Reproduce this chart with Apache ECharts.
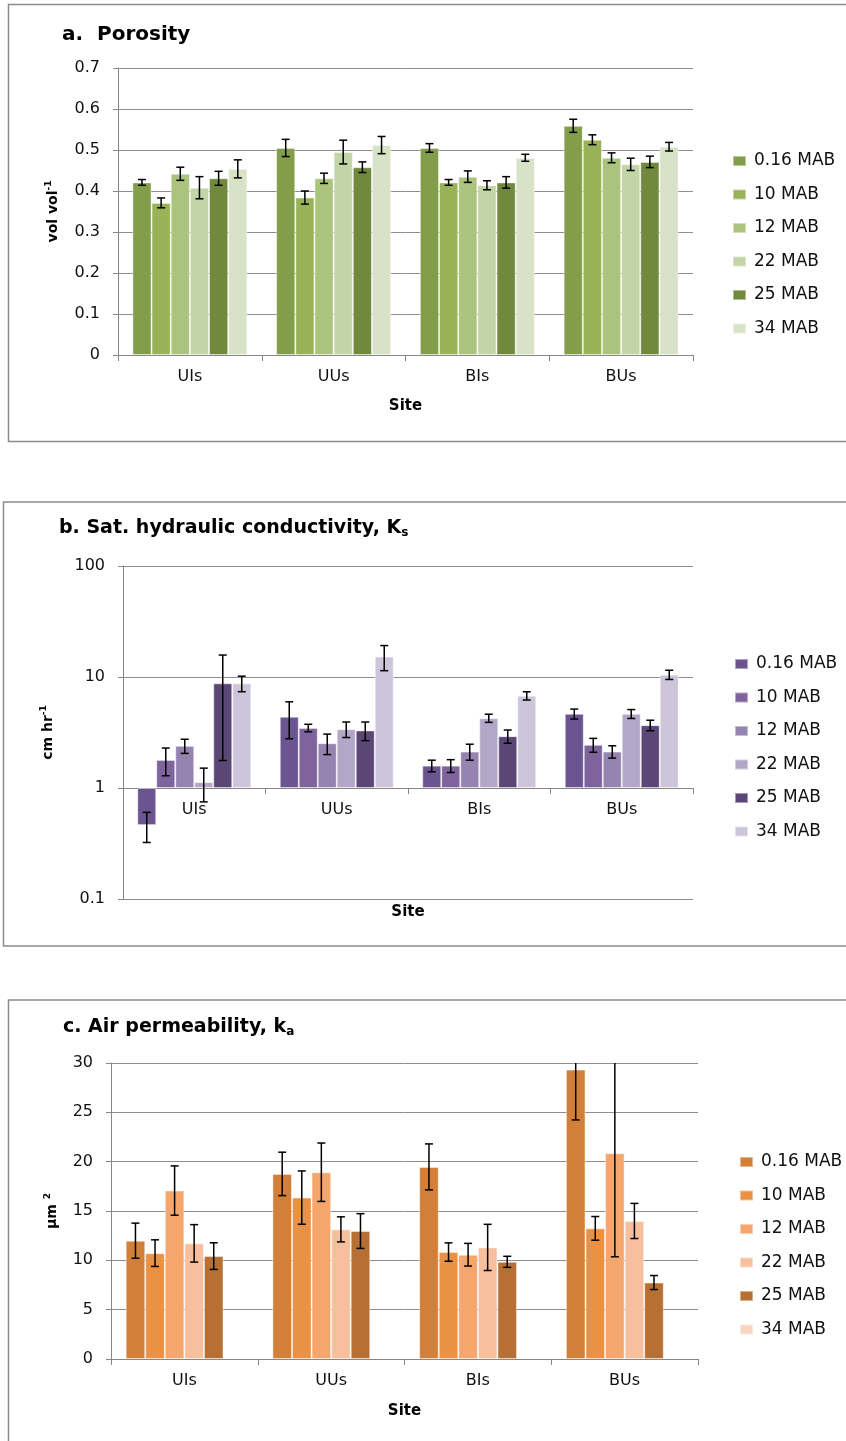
<!DOCTYPE html>
<html><head><meta charset="utf-8">
<script src="https://cdn.jsdelivr.net/npm/echarts@6/dist/echarts.min.js"></script>
<style>html,body{margin:0;padding:0;background:#fff}#c{width:846px;height:1441px}</style>
</head><body><div id="c"></div>
<script>
// ---------- DATA ----------
const sites = ['UIs', 'UUs', 'BIs', 'BUs'];
const depths = ['0.16 MAB', '10 MAB', '12 MAB', '22 MAB', '25 MAB', '34 MAB'];

// a. Porosity (vol vol-1), rows = depths, cols = sites
const porosityMean = [
  [0.421, 0.505, 0.505, 0.559],
  [0.371, 0.384, 0.421, 0.525],
  [0.442, 0.431, 0.435, 0.481],
  [0.408, 0.495, 0.414, 0.465],
  [0.431, 0.458, 0.421, 0.471],
  [0.454, 0.512, 0.481, 0.508]
];
const porosityErr = [
  [0.007, 0.021, 0.0105, 0.016],
  [0.012, 0.016, 0.007, 0.012],
  [0.016, 0.0125, 0.014, 0.012],
  [0.027, 0.029, 0.011, 0.015],
  [0.017, 0.013, 0.014, 0.014],
  [0.022, 0.021, 0.0085, 0.0105]
];
const porosityTicks = [0, 0.7, 0.1]; // min, max, interval

// b. Saturated hydraulic conductivity Ks (cm hr-1)
const ksMean = [
  [0.463, 4.38, 1.59, 4.66],
  [1.79, 3.48, 1.59, 2.45],
  [2.40, 2.53, 2.13, 2.13],
  [1.13, 3.39, 4.26, 4.66],
  [8.77, 3.30, 2.93, 3.68],
  [8.77, 15.3, 6.78, 10.5]
];
const ksErr = [
  [0.14, 1.6, 0.19, 0.48],
  [0.5, 0.27, 0.21, 0.35],
  [0.35, 0.53, 0.35, 0.27],
  [0.38, 0.54, 0.36, 0.43],
  [7.0, 0.63, 0.4, 0.4],
  [1.4, 3.9, 0.58, 1.0]
];
const ksTicks = [0.1, 100];

// c. Air permeability ka (µm2) — no 34 MAB data
const kaMean = [
  [11.99, 18.76, 19.47, 29.33],
  [10.73, 16.36, 10.84, 13.24],
  [17.07, 18.93, 10.57, 20.86],
  [11.72, 13.14, 11.31, 13.99],
  [10.43, 12.97, 9.85, 7.75],
  [null, null, null, null]
];
const kaErr = [
  [1.78, 2.2, 2.33, 5.1],
  [1.35, 2.7, 0.93, 1.2],
  [2.5, 2.96, 1.15, 10.5],
  [1.9, 1.27, 2.34, 1.78],
  [1.35, 1.76, 0.56, 0.71],
  [null, null, null, null]
];
const kaTicks = [0, 30, 5];

// ---------- STYLE ----------
const F = 'DejaVu Sans';
const greens = ['#839e4b', '#98b258', '#abc47d', '#c3d4a6', '#71893d', '#d8e2c6'];
const purples = ['#6b5590', '#7e639c', '#9583b0', '#b2a7c7', '#5a4775', '#cdc6da'];
const oranges = ['#d27f3a', '#ea9145', '#f5a66d', '#f7bf9e', '#b77033', '#f9d4bf'];
const GRAY = '#878787';

const chart = echarts.init(document.getElementById('c'), null, {renderer: 'canvas'});

function errRenderer(n) {
  return function (params, api) {
    const cat = api.value(0), s = api.value(1), m = api.value(2), e = api.value(3);
    const band = api.size([1, 0])[0];
    const inner = band * 0.8, bw = inner / n;
    const x = api.coord([cat, m])[0] - inner / 2 + (s + 0.5) * bw;
    const y1 = api.coord([cat, m + e])[1];
    const y2 = api.coord([cat, m - e])[1];
    const h = 4;
    const st = {stroke: '#000', lineWidth: 1.5};
    return {type: 'group', children: [
      {type: 'line', shape: {x1: x, y1: y1, x2: x, y2: y2}, style: st},
      {type: 'line', shape: {x1: x - h, y1: y1, x2: x + h, y2: y1}, style: st},
      {type: 'line', shape: {x1: x - h, y1: y2, x2: x + h, y2: y2}, style: st}
    ]};
  };
}

const series = [];
function addPanel(key, gi, means, errs, colors) {
  depths.forEach((d, i) => {
    series.push({
      type: 'bar', name: key + '|' + d, xAxisIndex: gi, yAxisIndex: gi,
      data: means[i].map(v => v == null ? '-' : v),
      barGap: '0%', barCategoryGap: '20%',
      itemStyle: {color: colors[i], borderColor: 'rgba(255,255,255,0.45)', borderWidth: 1},
      emphasis: {disabled: true}, animation: false
    });
  });
  const rows = [];
  depths.forEach((d, i) => sites.forEach((s, j) => {
    if (means[i][j] != null) rows.push([j, i, means[i][j], errs[i][j]]);
  }));
  series.push({
    type: 'custom', name: key + '|err', xAxisIndex: gi, yAxisIndex: gi,
    renderItem: errRenderer(depths.length), data: rows, encode: {x: 0, y: 2},
    clip: true, z: 10, animation: false, silent: true
  });
}
addPanel('a', 0, porosityMean, porosityErr, greens);
addPanel('b', 1, ksMean, ksErr, purples);
addPanel('c', 2, kaMean, kaErr, oranges);

const grids = [
  {left: 118, top: 68, width: 575, height: 287},
  {left: 123, top: 566, width: 570, height: 333},
  {left: 111, top: 1063, width: 587, height: 296}
];

const labelStyle = {fontFamily: F, fontSize: 16, color: '#111'};
const nameStyle = {
  fontFamily: F, fontSize: 14, fontWeight: 'bold', color: '#000',
  rich: {
    t: {fontFamily: F, fontSize: 14, fontWeight: 'bold', color: '#000', lineHeight: 16, padding: [3, 0, 0, 0], verticalAlign: 'bottom'},
    sup: {fontFamily: F, fontSize: 9, fontWeight: 'bold', color: '#000', lineHeight: 10, verticalAlign: 'top'}
  }
};

function xAxis(gi, offset, gap) {
  return {
    type: 'category', gridIndex: gi, data: sites, position: 'bottom', offset: offset,
    name: 'Site', nameLocation: 'middle', nameGap: gap,
    nameTextStyle: {fontFamily: F, fontSize: 15, fontWeight: 'bold', color: '#000'},
    axisLine: {onZero: false, lineStyle: {color: GRAY, width: 1}},
    axisTick: {show: true, length: 6, lineStyle: {color: GRAY}},
    axisLabel: Object.assign({margin: 14}, labelStyle),
    splitLine: {show: false}
  };
}
function yCommon(gi, name, gap) {
  return {
    gridIndex: gi, name: name, nameLocation: 'middle', nameGap: gap, nameRotate: 90,
    nameTextStyle: nameStyle,
    axisLine: {show: true, lineStyle: {color: GRAY, width: 1}},
    axisTick: {show: true, length: 5, lineStyle: {color: GRAY}},
    axisLabel: Object.assign({margin: 18}, labelStyle),
    splitLine: {show: true, lineStyle: {color: '#8e8e8e', width: 1}}
  };
}

const yA = Object.assign(yCommon(0, '{t|vol vol}{sup|-1}', 58), {
  type: 'value', min: porosityTicks[0], max: porosityTicks[1], interval: porosityTicks[2]
});
const yB = Object.assign(yCommon(1, '{t|cm hr}{sup|-1}', 68), {
  type: 'log', logBase: 10, min: ksTicks[0], max: ksTicks[1]
});
const yC = Object.assign(yCommon(2, '{t|µm }{sup|2}', 52), {
  type: 'value', min: kaTicks[0], max: kaTicks[1], interval: kaTicks[2]
});

function legend(key, left, top) {
  return {
    orient: 'vertical', left: left, top: top, itemWidth: 13, itemHeight: 10, itemGap: 15.5,
    icon: 'rect', selectedMode: false,
    data: depths.map(d => key + '|' + d),
    formatter: n => n.split('|')[1],
    textStyle: {fontFamily: F, fontSize: 17, color: '#111', lineHeight: 18, padding: [0, 0, 0, 3]}
  };
}

function titleOf(text, left, top, size) {
  return {
    text: text, left: left, top: top, padding: 0,
    textStyle: {
      rich: {
        t: {fontFamily: F, fontSize: size, fontWeight: 'bold', color: '#000', lineHeight: 20, padding: [0, 0, 3, 0], verticalAlign: 'top'},
        sub: {fontFamily: F, fontSize: 12, fontWeight: 'bold', color: '#000', lineHeight: 12, verticalAlign: 'bottom'}
      }
    }
  };
}

const border = (x, y, h) => ({
  type: 'rect', shape: {x: x, y: y, width: 900, height: h}, silent: true, z: -10,
  style: {fill: 'none', stroke: '#8c8c8c', lineWidth: 1.5}
});

chart.setOption({
  backgroundColor: '#fff',
  animation: false,
  title: [
    titleOf('{t|a.  Porosity}', 62, 25, 20),
    titleOf('{t|b. Sat. hydraulic conductivity, K}{sub|s}', 59, 519, 19),
    titleOf('{t|c. Air permeability, k}{sub|a}', 63, 1018, 19)
  ],
  graphic: [border(8.5, 4.5, 437), border(3.5, 502, 444), border(8.5, 1000, 470)],
  legend: [legend('a', 727, 147), legend('b', 729, 650), legend('c', 734, 1148)],
  grid: grids,
  xAxis: [xAxis(0, 0, 44), xAxis(1, -111, 117), xAxis(2, 0, 45)],
  yAxis: [yA, yB, yC],
  series: series
});
</script></body></html>
